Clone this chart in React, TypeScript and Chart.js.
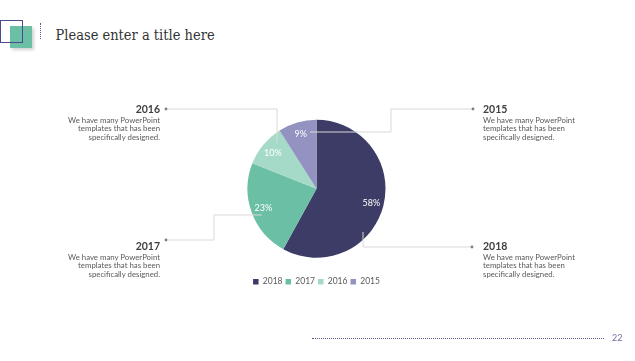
import React, { useEffect, useRef } from "react";
import { Chart, registerables } from "chart.js";

Chart.register(...registerables);

const categories = ["2018", "2017", "2016", "2015"];
const shares = [58, 23, 10, 9];
const sliceColors = ["#3c3c66", "#6bbfa4", "#a5dac8", "#9393c1"];

const bodyText = ["We have many PowerPoint", "templates that has been", "specifically designed."];

const SANS = "Lato, 'Noto Sans', sans-serif";

const pctLabels = {
  id: "pctLabels",
  afterDatasetsDraw(chart: any) {
    const ctx = chart.ctx;
    const meta = chart.getDatasetMeta(0);
    ctx.save();
    ctx.fillStyle = "#ffffff";
    ctx.font = "9px " + SANS;
    ctx.textAlign = "center";
    ctx.textBaseline = "middle";
    meta.data.forEach((arc: any, i: number) => {
      const p = arc.getProps(["startAngle", "endAngle", "outerRadius", "x", "y"], true);
      const mid = (p.startAngle + p.endAngle) / 2;
      const r = p.outerRadius * 0.82;
      ctx.fillText(shares[i] + "%", p.x + Math.cos(mid) * r, p.y + Math.sin(mid) * r);
    });
    ctx.restore();
  },
};

function TextBlock({ year, x, y, align }: { year: string; x: number; y: number; align: "left" | "right" }) {
  const pos: any = { position: "absolute", top: y, whiteSpace: "nowrap", textAlign: align };
  if (align === "right") pos.right = 635 - x;
  else pos.left = x;
  return (
    <div style={pos}>
      <div style={{ fontFamily: SANS, fontWeight: 700, fontSize: 10.5, lineHeight: "14px", color: "#404040" }}>{year}</div>
      <div style={{ fontFamily: SANS, fontSize: 7.8, lineHeight: "8.7px", color: "#595959", marginTop: 0 }}>
        {bodyText.map((t, i) => (
          <div key={i}>{t}</div>
        ))}
      </div>
    </div>
  );
}

export default function App() {
  const ref = useRef<HTMLCanvasElement>(null);
  useEffect(() => {
    if (!ref.current) return;
    const chart = new Chart(ref.current, {
      type: "pie",
      data: {
        labels: categories,
        datasets: [
          {
            data: shares,
            backgroundColor: sliceColors,
            borderWidth: 0,
            radius: 69,
          } as any,
        ],
      },
      options: {
        animation: false,
        responsive: false,
        maintainAspectRatio: false,
        layout: { padding: { top: 5 } },
        plugins: {
          tooltip: { enabled: false },
          legend: {
            position: "bottom",
            labels: {
              boxWidth: 5.5,
              boxHeight: 5.5,
              padding: 3,
              color: "#595959",
              font: { size: 8.5, family: SANS },
            },
          },
        },
      },
      plugins: [pctLabels],
    });
    return () => chart.destroy();
  }, []);

  const line = "#d9d9d9";
  return (
    <div style={{ position: "fixed", left: 0, top: 0, width: 635, height: 361, background: "#fff", overflow: "hidden" }}>
      {/* title decoration */}
      <div style={{ position: "absolute", left: 10, top: 26, width: 21.5, height: 21.5, background: "#6bbfa4", boxShadow: "2px 2px 3px rgba(0,0,0,0.18)" }} />
      <div style={{ position: "absolute", left: 0, top: 20, width: 20.5, height: 20.5, border: "1.5px solid #4b4b8c" }} />
      <div style={{ position: "absolute", left: 40, top: 23, width: 0, height: 16, borderLeft: "1.5px dotted #55558a" }} />
      <div style={{ position: "absolute", left: 55.5, top: 25, fontFamily: "'DejaVu Serif', serif", fontStretch: "condensed", fontSize: 14.5, lineHeight: "20px", color: "#333", whiteSpace: "nowrap" }}>
        Please enter a title here
      </div>

      <canvas ref={ref} width={301} height={198} style={{ position: "absolute", left: 166, top: 98, width: 301, height: 198 }} />

      <svg width={635} height={361} style={{ position: "absolute", left: 0, top: 0 }}>
        <polyline points="166,109 277,109 277,143" fill="none" stroke={line} strokeWidth={1} />
        <polyline points="310,132 391,132 391,109 473,109" fill="none" stroke={line} strokeWidth={1} />
        <polyline points="166,240 214,240 214,215 262,215" fill="none" stroke={line} strokeWidth={1} />
        <polyline points="363,232 363,247 472,247" fill="none" stroke={line} strokeWidth={1} />
        <circle cx={166} cy={109} r={1.4} fill="#7f7f7f" />
        <circle cx={473} cy={109} r={1.4} fill="#7f7f7f" />
        <circle cx={166} cy={240} r={1.4} fill="#7f7f7f" />
        <circle cx={472} cy={247} r={1.4} fill="#7f7f7f" />
      </svg>

      <TextBlock year="2016" x={160} y={101.5} align="right" />
      <TextBlock year="2015" x={483} y={101.5} align="left" />
      <TextBlock year="2017" x={160} y={238.5} align="right" />
      <TextBlock year="2018" x={483} y={238.5} align="left" />

      <div style={{ position: "absolute", left: 312, top: 338, width: 292, height: 0, borderTop: "1px dotted #5b5b90" }} />
      <div style={{ position: "absolute", left: 612, top: 332, fontFamily: SANS, fontSize: 9, lineHeight: "12px", color: "#6f6fa0" }}>22</div>
    </div>
  );
}
